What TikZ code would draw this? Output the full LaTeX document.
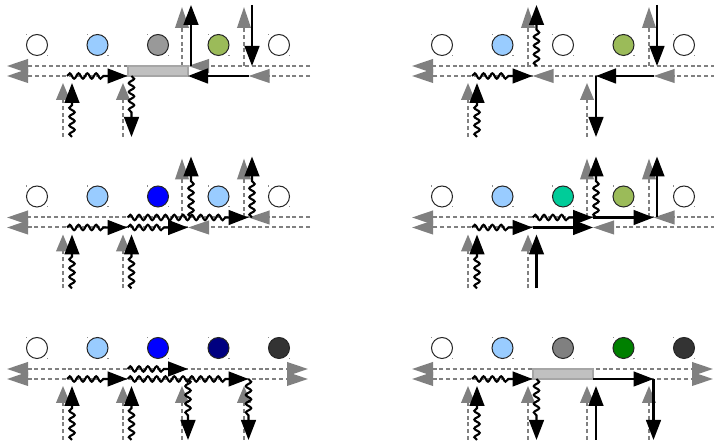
\documentclass[tikz,border=0pt]{standalone}
\usetikzlibrary{arrows.meta,decorations.pathmorphing}

\definecolor{lineGray}{HTML}{808080}
\definecolor{lightBlue}{HTML}{99CCFF}
\definecolor{leafGreen}{HTML}{9BBB59}
\definecolor{midGray}{HTML}{999999}
\definecolor{stoneGray}{HTML}{808080}
\definecolor{tealGreen}{HTML}{00CC99}
\definecolor{pureBlue}{HTML}{0000FF}
\definecolor{navyBlue}{HTML}{000080}
\definecolor{charcoal}{HTML}{333333}
\definecolor{darkGreen}{HTML}{008000}
\definecolor{barFill}{HTML}{C0C0C0}
\definecolor{barEdge}{HTML}{A6A6A6}

\tikzset{
  gline/.style={draw=lineGray, line width=1pt, dash pattern=on 2pt off 1.4pt},
  gtip/.style={-{Triangle[length=10.5pt,width=6.8pt]}},
  gboth/.style={{Triangle[length=10.5pt,width=6.8pt]}-{Triangle[length=10.5pt,width=6.8pt]}},
  gport/.style={-{Triangle[length=8.5pt,width=6.8pt]}},
  bline/.style={draw=black, line width=1.05pt},
  wline/.style={draw=black, line width=1.05pt, decorate,
    decoration={snake, amplitude=1.35pt, segment length=4.4pt, post length=11pt}},
  btip/.style={-{Triangle[length=10pt,width=7.4pt]}},
  circ/.style={circle, draw=black!85, line width=0.5pt, minimum size=10.5pt, inner sep=0pt},
  cornerdot/.style={fill=black!45},
  bar/.style={rectangle, fill=barFill, draw=barEdge, line width=0.6pt,
    minimum width=30pt, minimum height=5pt, inner sep=0pt},
}

% named points of one panel: the two rails, their junctions and the ports
\newcommand\panelgrid{%
  \coordinate (tL) at (7,66);  \coordinate (tR) at (308,66); \coordinate (tE) at (310,66);
  \coordinate (bL) at (7,76);  \coordinate (bR) at (308,76); \coordinate (bE) at (310,76);
  \foreach \k/\m/\g/\b in {1/67/63/72, 2/127.5/123/131.5, 3/188/182/191, 4/248.5/244/252} {
    \coordinate (t\k) at (\m,66);    \coordinate (b\k) at (\m,76);
    \coordinate (b\k-lo) at (\m,137);
    \coordinate (g\k-top) at (\g,7); \coordinate (g\k-t) at (\g,66);
    \coordinate (g\k-hi) at (\g,83); \coordinate (g\k-lo) at (\g,137);
    \coordinate (k\k-top) at (\b,5); \coordinate (k\k-t) at (\b,66);
    \coordinate (k\k-b) at (\b,76);  \coordinate (k\k-hi) at (\b,83);
    \coordinate (k\k-lo) at (\b,137);
  }%
}

% the row of five sites above the rails
\newcommand\sites[5]{%
  \foreach \i/\c in {1/#1, 2/#2, 3/#3, 4/#4, 5/#5} {
    \node[circ, fill=\c] (c\i) at ({37+60.5*(\i-1)},45) {};
    \fill[cornerdot] (c\i.north -| c\i.west) rectangle ++(1.3,1.3);
    \fill[cornerdot] (c\i.south -| c\i.east) rectangle ++(-1.3,-1.3);
  }%
}

\begin{document}
\begin{tikzpicture}[x=0.5pt, y=-0.5pt]
\useasboundingbox (0,0) rectangle (714,442);

% ---------------- top left ----------------
\begin{scope}[name prefix=A-]
  \panelgrid
  \draw[gline, gtip] (t2) -- (tL);
  \draw[gline, gtip] (b2) -- (bL);
  \draw[gline, gtip] (tE) -- (t3);
  \draw[gline, gtip] (bE) -- (b4);
  \draw[gline] (b4) -- (b3);
  \draw[gline, gtip] (g3-t) -- (g3-top);
  \draw[gline, gtip] (g4-t) -- (g4-top);
  \draw[gline, gport] (g1-lo) -- (g1-hi);
  \draw[gline, gport] (g2-lo) -- (g2-hi);
  \node[bar] (bar) at (158,71) {};
  \sites{white}{lightBlue}{midGray}{leafGreen}{white}
  \draw[wline, btip] (k1-lo) -- (k1-hi);
  \draw[wline, btip] (b1) -- (b2);
  \draw[wline, btip] (k2-b) -- (k2-lo);
  \draw[bline, btip] (k3-t) -- (k3-top);
  \draw[bline, btip] (k4-top) -- (k4-t);
  \draw[bline, btip] (b4) -- (b3);
\end{scope}

% ---------------- top right ----------------
\begin{scope}[shift={(405,0)}, name prefix=B-]
  \panelgrid
  \draw[gline, gtip] (tE) -- (tL);
  \draw[gline, gtip] (b2) -- (bL);
  \draw[gline, gtip] (b3) -- (b2);
  \draw[gline, gtip] (bE) -- (b4);
  \draw[gline] (b4) -- (b3);
  \draw[gline, gtip] (g2-t) -- (g2-top);
  \draw[gline, gtip] (g4-t) -- (g4-top);
  \draw[gline, gport] (g1-lo) -- (g1-hi);
  \draw[gline, gport] (g3-lo) -- (g3-hi);
  \sites{white}{lightBlue}{white}{leafGreen}{white}
  \draw[wline, btip] (k1-lo) -- (k1-hi);
  \draw[wline, btip] (b1) -- (b2);
  \draw[wline, btip] (k2-t) -- (k2-top);
  \draw[bline, btip] (k4-top) -- (k4-t);
  \draw[bline, btip] (b4) -- (k3-b);
  \draw[bline, btip] (k3-b) -- (k3-lo);
\end{scope}

% ---------------- middle left ----------------
\begin{scope}[shift={(0,151.5)}, name prefix=C-]
  \panelgrid
  \draw[gline, gtip] (t4) -- (tL);
  \draw[gline, gtip] (tE) -- (t4);
  \draw[gline, gtip] (b3) -- (bL);
  \draw[gline, gtip] (bE) -- (b3);
  \draw[gline, gtip] (g3-t) -- (g3-top);
  \draw[gline, gtip] (g4-t) -- (g4-top);
  \draw[gline, gport] (g1-lo) -- (g1-hi);
  \draw[gline, gport] (g2-lo) -- (g2-hi);
  \sites{white}{lightBlue}{pureBlue}{lightBlue}{white}
  \draw[wline, btip] (k1-lo) -- (k1-hi);
  \draw[wline, btip] (k2-lo) -- (k2-hi);
  \draw[wline, btip] (b1) -- (b2);
  \draw[wline, btip] (b2) -- (b3);
  \draw[wline, btip] (t2) -- (t4);
  \draw[wline, btip] (k3-t) -- (k3-top);
  \draw[wline, btip] (k4-t) -- (k4-top);
\end{scope}

% ---------------- middle right ----------------
\begin{scope}[shift={(405,151.5)}, name prefix=D-]
  \panelgrid
  \draw[gline, gtip] (t3) -- (tL);
  \draw[gline, gtip] (tE) -- (t4);
  \draw[gline] (t4) -- (t3);
  \draw[gline, gtip] (b2) -- (bL);
  \draw[gline, gtip] (bE) -- (b3);
  \draw[gline, gtip] (g3-t) -- (g3-top);
  \draw[gline, gtip] (g4-t) -- (g4-top);
  \draw[gline, gport] (g1-lo) -- (g1-hi);
  \draw[gline, gport] (g2-lo) -- (g2-hi);
  \sites{white}{lightBlue}{tealGreen}{leafGreen}{white}
  \draw[wline, btip] (k1-lo) -- (k1-hi);
  \draw[bline, btip] (k2-lo) -- (k2-hi);
  \draw[wline, btip] (b1) -- (b2);
  \draw[wline, btip] (t2) -- (t3);
  \draw[bline, btip] (b2) -- (b3);
  \draw[wline, btip] (k3-t) -- (k3-top);
  \draw[bline, btip] (t3) -- (t4);
  \draw[bline, btip] (k4-t) -- (k4-top);
\end{scope}

% ---------------- bottom left ----------------
\begin{scope}[shift={(0,303)}, name prefix=E-]
  \panelgrid
  \draw[gline, gboth] (tL) -- (tR);
  \draw[gline, gboth] (bL) -- (bR);
  \foreach \k in {1,2,3,4} \draw[gline, gport] (g\k-lo) -- (g\k-hi);
  \sites{white}{lightBlue}{pureBlue}{navyBlue}{charcoal}
  \draw[wline, btip] (k1-lo) -- (k1-hi);
  \draw[wline, btip] (k2-lo) -- (k2-hi);
  \draw[wline, btip] (b1) -- (b2);
  \draw[wline, btip] (t2) -- (t3);
  \draw[wline, btip] (b2) -- (b4);
  \draw[wline, btip] (b3) -- (b3-lo);
  \draw[wline, btip] (b4) -- (b4-lo);
\end{scope}

% ---------------- bottom right ----------------
\begin{scope}[shift={(405,303)}, name prefix=F-]
  \panelgrid
  \draw[gline, gboth] (tL) -- (tR);
  \draw[gline, gboth] (bL) -- (bR);
  \foreach \k in {1,2,3,4} \draw[gline, gport] (g\k-lo) -- (g\k-hi);
  \node[bar] (bar) at (158,71) {};
  \sites{white}{lightBlue}{stoneGray}{darkGreen}{charcoal}
  \draw[wline, btip] (k1-lo) -- (k1-hi);
  \draw[wline, btip] (b1) -- (b2);
  \draw[wline, btip] (k2-b) -- (k2-lo);
  \draw[bline, btip] (k3-lo) -- (k3-hi);
  \draw[bline, btip] (b3) -- (b4);
  \draw[bline, btip] (b4) -- (b4-lo);
\end{scope}

\end{tikzpicture}
\end{document}
